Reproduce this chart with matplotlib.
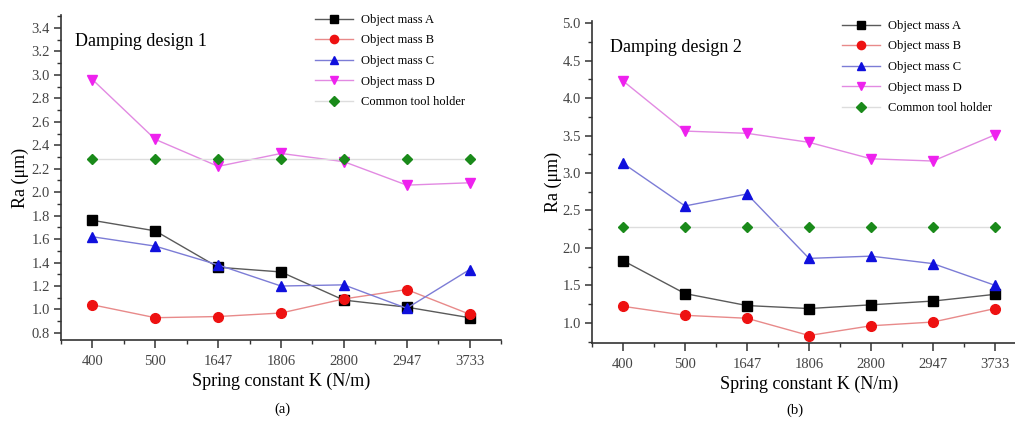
import matplotlib
matplotlib.use("Agg")
import matplotlib.pyplot as plt
import numpy as np
from matplotlib.ticker import MultipleLocator, FixedLocator

plt.rcParams['font.family'] = ['Liberation Serif', 'DejaVu Serif']

categories = ["400", "500", "1647", "1806", "2800", "2947", "3733"]

a_mass_A = [1.76, 1.67, 1.36, 1.32, 1.08, 1.02, 0.93]
a_mass_B = [1.04, 0.93, 0.94, 0.97, 1.09, 1.17, 0.96]
a_mass_C = [1.62, 1.54, 1.38, 1.20, 1.21, 1.01, 1.34]
a_mass_D = [2.96, 2.45, 2.22, 2.33, 2.26, 2.06, 2.08]
a_holder = [2.28, 2.28, 2.28, 2.28, 2.28, 2.28, 2.28]

b_mass_A = [1.83, 1.39, 1.23, 1.19, 1.24, 1.29, 1.38]
b_mass_B = [1.22, 1.10, 1.06, 0.83, 0.96, 1.01, 1.19]
b_mass_C = [3.13, 2.56, 2.72, 1.86, 1.89, 1.79, 1.50]
b_mass_D = [4.23, 3.56, 3.53, 3.41, 3.19, 3.16, 3.51]
b_holder = [2.28, 2.28, 2.28, 2.28, 2.28, 2.28, 2.28]

labels = ["Object mass A", "Object mass B", "Object mass C", "Object mass D", "Common tool holder"]
styles = [
    dict(color='#5a5a5a', marker='s', mfc='black', mec='black', ms=6.5),
    dict(color='#e88a8a', marker='o', mfc='#ee1111', mec='#ee1111', ms=7),
    dict(color='#7c7cd6', marker='^', mfc='#1010dd', mec='#1010dd', ms=7.5),
    dict(color='#e28ae2', marker='v', mfc='#ee22ee', mec='#ee22ee', ms=7.5),
    dict(color='#dddddd', marker='D', mfc='#1a8a1a', mec='#1a8a1a', ms=5.5),
]

W, H = 1015, 425
fig = plt.figure(figsize=(W / 100, H / 100), dpi=100)

def px_box(l, r, t, b):
    return [l / W, 1 - b / H, (r - l) / W, (b - t) / H]

panels = [
    dict(box=px_box(61, 501, 15, 340), series=[a_mass_A, a_mass_B, a_mass_C, a_mass_D, a_holder],
         ylim=(0.74, 3.51), major=0.2, minor=0.1, fmt="{:.1f}", ymax_tick=3.4,
         title="Damping design 1", title_xy=(75, 42), leg_xy=(315, 14), tag="(a)", tag_xy=(282, 409),
         ylabelpad=1.5),
    dict(box=px_box(592, 1026, 21, 343), series=[b_mass_A, b_mass_B, b_mass_C, b_mass_D, b_holder],
         ylim=(0.73, 5.03), major=0.5, minor=0.25, fmt="{:.1f}", ymax_tick=5.0,
         title="Damping design 2", title_xy=(610, 48), leg_xy=(842, 20), tag="(b)", tag_xy=(795, 410),
         ylabelpad=0),
]

x = list(range(len(categories)))
for p in panels:
    ax = fig.add_axes(p['box'])
    lines = {}
    for i in [4, 0, 1, 2, 3]:
        st = styles[i]
        ln, = ax.plot(x, p['series'][i], lw=1.0, label=labels[i], zorder=2 + i, **st)
        lines[i] = ln
    handles = [lines[i] for i in range(5)]
    ax.set_xlim(-0.5, 6.5)
    ax.set_ylim(*p['ylim'])
    ax.set_xticks(x)
    ax.set_xticklabels(categories)
    ax.xaxis.set_minor_locator(FixedLocator([i + 0.5 for i in range(-1, 7)]))
    yt = np.arange(0, p['ymax_tick'] + 1e-9, p['major'])
    yt = [v for v in yt if v >= p['ylim'][0] - 1e-9]
    ax.set_yticks(yt)
    ax.set_yticklabels([p['fmt'].format(v) for v in yt])
    ax.yaxis.set_minor_locator(MultipleLocator(p['minor']))
    for s in ['top', 'right']:
        ax.spines[s].set_visible(False)
    for s in ['left', 'bottom']:
        ax.spines[s].set_color('#333333')
        ax.spines[s].set_linewidth(1.2)
    ax.tick_params(which='major', direction='out', length=5, width=1.1, color='#333333',
                   labelsize=10.5, labelcolor='#444444', pad=3)
    ax.tick_params(which='minor', direction='out', length=3, width=1.0, color='#333333')
    ax.tick_params(axis='x', which='major', length=6, pad=5)
    ax.set_xlabel("Spring constant K (N/m)", fontsize=13, labelpad=3)
    ax.set_ylabel("Ra (μm)", fontsize=13, labelpad=p['ylabelpad'])
    fig.text(p['title_xy'][0] / W, 1 - p['title_xy'][1] / H, p['title'], fontsize=13,
             ha='left', va='center')
    fig.legend(handles, labels, loc='upper left',
               bbox_to_anchor=(p['leg_xy'][0] / W, 1 - p['leg_xy'][1] / H),
               bbox_transform=fig.transFigure, frameon=False, fontsize=9,
               handlelength=3.0, handletextpad=0.7, labelspacing=0.68,
               borderpad=0, borderaxespad=0, markerscale=0.85)
    fig.text(p['tag_xy'][0] / W, 1 - p['tag_xy'][1] / H, p['tag'], fontsize=10.5,
             ha='center', va='center')

fig.savefig("out.png", dpi=100)
